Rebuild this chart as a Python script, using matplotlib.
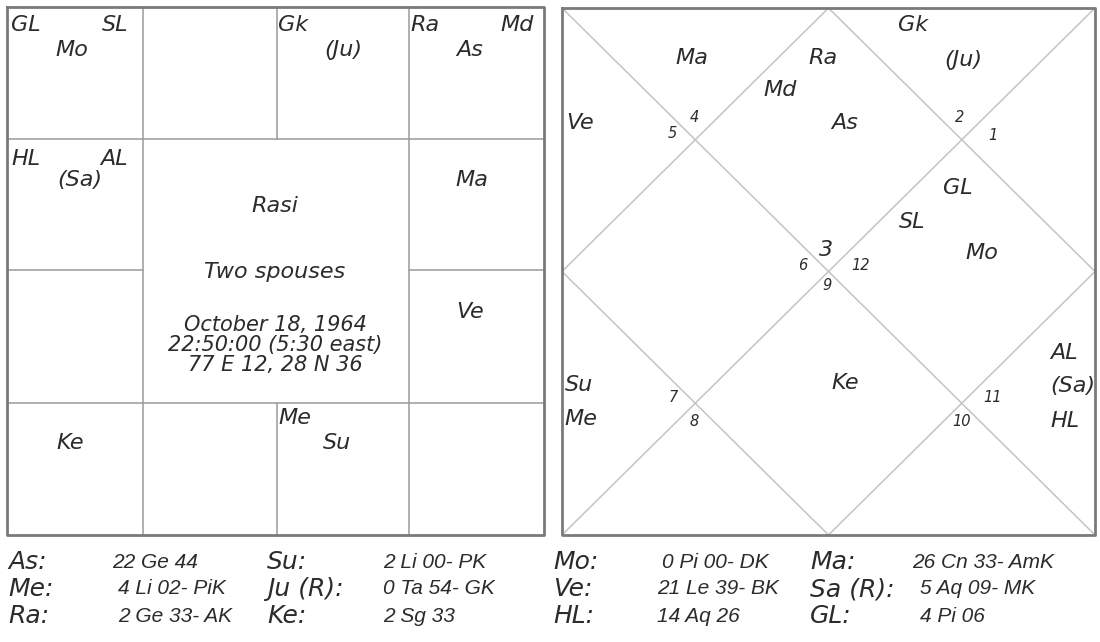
import matplotlib.pyplot as plt

# chart contents
rasi_labels = ["GL", "SL", "Mo", "Gk", "(Ju)", "Ra", "Md", "As",
               "HL", "AL", "(Sa)", "Ma", "Ve", "Ke", "Me", "Su"]
center_lines = ["Rasi", "Two spouses", "October 18, 1964",
                "22:50:00 (5:30 east)", "77 E 12, 28 N 36"]
north_labels = ["Ma", "Ra", "Md", "Ve", "As", "Gk", "(Ju)", "GL", "SL", "Mo",
                "Su", "Me", "Ke", "AL", "(Sa)", "HL"]
house_numbers = ["4", "5", "2", "1", "6", "12", "9", "7", "8", "11", "10"]
lagna_number = "3"
table_names = ["As:", "Me:", "Ra:", "Su:", "Ju (R):", "Ke:",
               "Mo:", "Ve:", "HL:", "Ma:", "Sa (R):", "GL:"]
table_values = ["22 Ge 44", "4 Li 02- PiK", "2 Ge 33- AK",
                "2 Li 00- PK", "0 Ta 54- GK", "2 Sg 33",
                "0 Pi 00- DK", "21 Le 39- BK", "14 Aq 26",
                "26 Cn 33- AmK", "5 Aq 09- MK", "4 Pi 06"]

# layout (pixel coords)
rasi_pos = [(11, 25, 'left'), (128, 25, 'right'), (72, 50, 'center'),
            (278, 25, 'left'), (343, 50, 'center'),
            (410, 25, 'left'), (534, 25, 'right'), (470, 50, 'center'),
            (11, 159, 'left'), (128, 159, 'right'), (80, 180, 'center'),
            (472, 180, 'center'), (470, 312, 'center'), (70, 443, 'center'),
            (278, 418, 'left'), (337, 443, 'center')]
center_pos = [(275, 206, 16), (275, 272, 16), (275, 325, 15),
              (275, 345, 15), (275, 365, 15)]
north_pos = [(692, 58, 'center'), (823, 58, 'center'), (780, 90, 'center'),
             (566, 123, 'left'), (845, 123, 'center'), (913, 25, 'center'),
             (963, 60, 'center'), (958, 188, 'center'), (912, 222, 'center'),
             (982, 253, 'center'), (565, 385, 'left'), (564, 419, 'left'),
             (845, 383, 'center'), (1050, 353, 'left'), (1050, 386, 'left'),
             (1050, 421, 'left')]
number_pos = [(694, 118), (672, 134), (960, 118), (993, 135), (803, 265),
              (861, 266), (827, 285), (673, 397), (694, 422), (993, 398),
              (962, 421)]
name_x = [8, 267, 553, 810]
value_x = [[112, 118, 118], [383, 383, 383], [662, 657, 657], [912, 920, 920]]
row_y = [562, 589, 616]

txt = '#2b2b2b'
fig = plt.figure(figsize=(11, 6.42), dpi=100)
ax = fig.add_axes([0, 0, 1, 1])
ax.set_xlim(0, 1100)
ax.set_ylim(642, 0)
ax.axis('off')

# left (south indian) chart
L, R, T, B = 7, 544, 7, 535
inner = dict(color='#9a9a9a', lw=1.1)
ax.plot([L, R], [139, 139], **inner)
ax.plot([L, R], [403, 403], **inner)
ax.plot([L, 143], [270, 270], **inner)
ax.plot([409, R], [270, 270], **inner)
ax.plot([143, 143], [T, B], **inner)
ax.plot([409, 409], [T, B], **inner)
ax.plot([277, 277], [T, 139], **inner)
ax.plot([277, 277], [403, B], **inner)
ax.plot([L, R, R, L, L], [T, T, B, B, T], color='#7a7a7a', lw=2)

for lab, (x, y, ha) in zip(rasi_labels, rasi_pos):
    ax.text(x, y, lab, ha=ha, va='center', fontsize=16, style='italic',
            family='DejaVu Sans', color=txt)
for lab, (x, y, fs) in zip(center_lines, center_pos):
    ax.text(x, y, lab, ha='center', va='center', fontsize=fs, style='italic',
            family='DejaVu Sans', color=txt)

# right (north indian) chart
L2, R2, T2, B2 = 562, 1095, 8, 535
cx, cy = (L2 + R2) / 2, (T2 + B2) / 2
diag = dict(color='#c4c4c4', lw=1.1)
ax.plot([L2, R2], [T2, B2], **diag)
ax.plot([L2, R2], [B2, T2], **diag)
ax.plot([cx, R2, cx, L2, cx], [T2, cy, B2, cy, T2], **diag)
ax.plot([L2, R2, R2, L2, L2], [T2, T2, B2, B2, T2], color='#7a7a7a', lw=2)

for lab, (x, y, ha) in zip(north_labels, north_pos):
    ax.text(x, y, lab, ha=ha, va='center', fontsize=16, style='italic',
            family='DejaVu Sans', color=txt)
for lab, (x, y) in zip(house_numbers, number_pos):
    ax.text(x, y, lab, ha='center', va='center', fontsize=10.5, style='italic',
            family='DejaVu Sans', color=txt)
ax.text(826, 250, lagna_number, ha='center', va='center', fontsize=16,
        style='italic', family='DejaVu Sans', color=txt)

# table below
for c in range(4):
    for r in range(3):
        i = c * 3 + r
        ax.text(name_x[c], row_y[r], table_names[i], ha='left', va='center',
                fontsize=18, style='italic', family='DejaVu Sans', color=txt)
        ax.text(value_x[c][r], row_y[r], table_values[i], ha='left', va='center',
                fontsize=15, style='italic', family='Liberation Sans', color=txt)

fig.savefig('out.png', dpi=100)
